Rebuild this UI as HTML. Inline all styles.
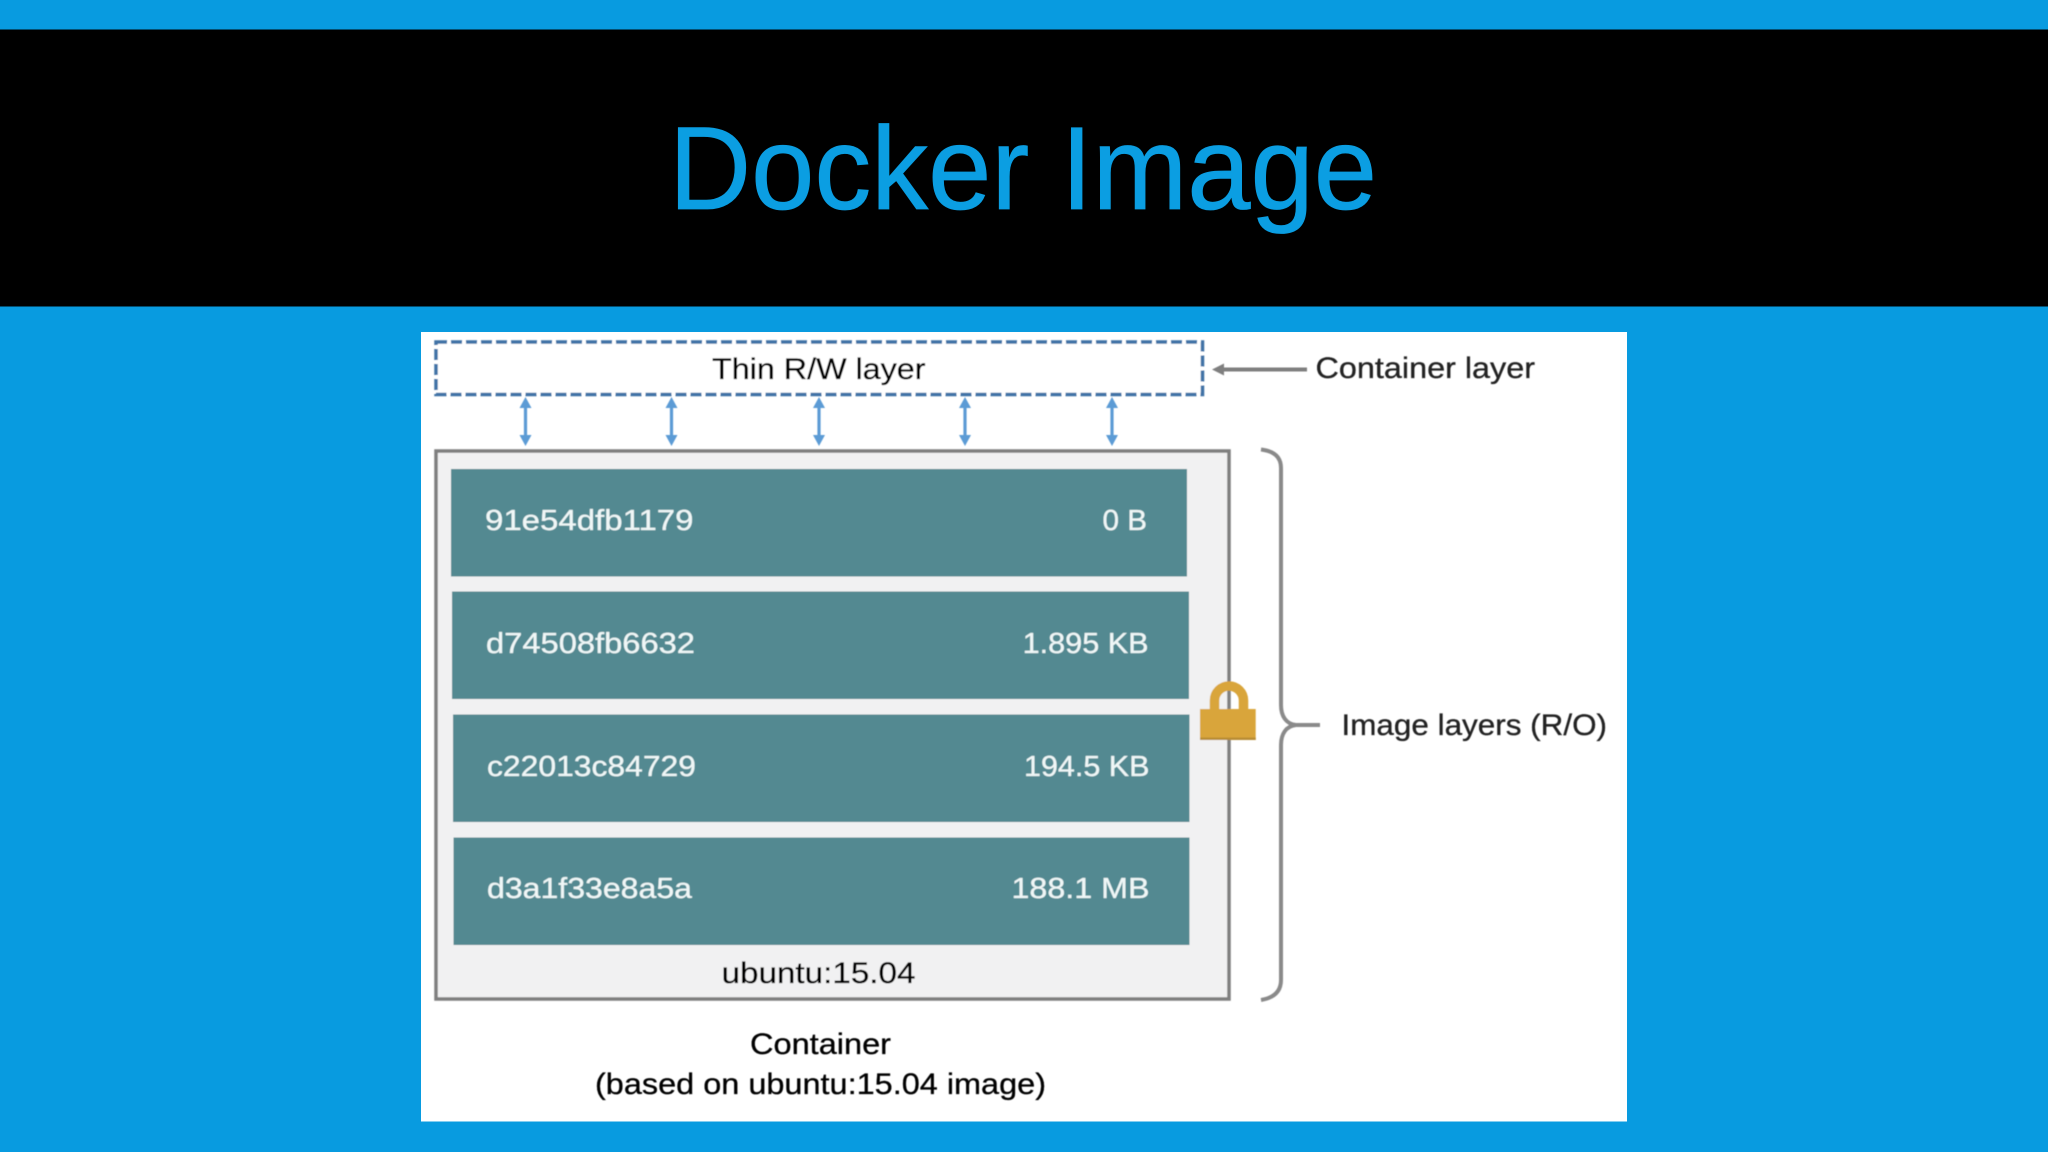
<!DOCTYPE html>
<html lang="en">
<head>
<meta charset="utf-8">
<title>Docker Image</title>
<style>
html,body{margin:0;padding:0;width:2048px;height:1152px;overflow:hidden;background:#089be0}
svg{display:block}
text{font-family:"Liberation Sans",sans-serif}
</style>
</head>
<body>
<svg xmlns="http://www.w3.org/2000/svg" width="2048" height="1152" viewBox="0 0 2048 1152">
<defs><filter id="b" x="-2%" y="-2%" width="104%" height="104%"><feGaussianBlur stdDeviation="0.45"/></filter></defs>
<rect width="2048" height="1152" fill="#089be0"/>
<rect x="0" y="29.5" width="2048" height="277" fill="#000"/>
<text x="669" y="209" font-size="118" fill="#0b9ee2" stroke="#0b9ee2" stroke-width="0.8" textLength="708" lengthAdjust="spacingAndGlyphs">Docker Image</text>
<rect x="421" y="332" width="1206" height="789.5" fill="#fff"/>
<g filter="url(#b)">
<rect x="436" y="342" width="766.5" height="52.5" fill="#fff" stroke="#3f72a6" stroke-width="3.5" stroke-dasharray="11 4"/>
<rect x="436" y="451" width="793" height="548" fill="#f1f1f2" stroke="#7f7f7f" stroke-width="3.5"/>
<g fill="#538991">
<rect x="451" y="469" width="736" height="107.5"/>
<rect x="452" y="591.5" width="737" height="107.5"/>
<rect x="453" y="714.5" width="736.5" height="107.5"/>
<rect x="453.5" y="837.5" width="736" height="107.5"/>
</g>
<g stroke="#5b9bd5" stroke-width="3.2" fill="none">
<path d="M525.5 402V441M671.5 402V441M819 402V441M965 402V441M1112 402V441"/>
</g>
<g fill="#5b9bd5">
<path d="M525.5 397l-6 11h12zM525.5 446l-6 -11h12zM671.5 397l-6 11h12zM671.5 446l-6 -11h12zM819 397l-6 11h12zM819 446l-6 -11h12zM965 397l-6 11h12zM965 446l-6 -11h12zM1112 397l-6 11h12zM1112 446l-6 -11h12z"/>
</g>
<path d="M1307 369.5H1220" stroke="#7f7f7f" stroke-width="4" fill="none"/>
<path d="M1212 369.5l12 -6v12z" fill="#7f7f7f"/>
<path d="M1261 449.5C1273 451 1281 456 1281 468V705C1281 716 1286 724 1296 725H1320M1296 725C1286 726 1281 734 1281 745V980C1281 992 1273 998 1261 1000" fill="none" stroke="#8a8a8a" stroke-width="4"/>
<path d="M1214.5 710V700.5a14.5 14.5 0 0 1 29 0V710" fill="none" stroke="#d9a53b" stroke-width="9.5"/>
<rect x="1200" y="709" width="55.7" height="31" fill="#d9a53b"/>
<rect x="1200" y="737.5" width="55.7" height="2.5" fill="#b98d34"/>
<g fill="#000" stroke="#000" stroke-width="0.3" font-size="30">
<text x="712" y="379" textLength="213.5" lengthAdjust="spacingAndGlyphs">Thin R/W layer</text>
<text x="721.5" y="983" textLength="194" lengthAdjust="spacingAndGlyphs">ubuntu:15.04</text>
<text x="750" y="1054" textLength="141" lengthAdjust="spacingAndGlyphs">Container</text>
<text x="595" y="1094" textLength="451" lengthAdjust="spacingAndGlyphs">(based on ubuntu:15.04 image)</text>
</g>
<g fill="#222" stroke="#222" stroke-width="0.3" font-size="30">
<text x="1315.5" y="378" textLength="219.5" lengthAdjust="spacingAndGlyphs">Container layer</text>
<text x="1341.5" y="735" textLength="265.5" lengthAdjust="spacingAndGlyphs">Image layers (R/O)</text>
</g>
<g fill="#f0f7f7" stroke="#f0f7f7" stroke-width="0.25" font-size="29">
<text x="485" y="530" textLength="208.5" lengthAdjust="spacingAndGlyphs">91e54dfb1179</text>
<text x="1102.5" y="530" textLength="44.5" lengthAdjust="spacingAndGlyphs">0 B</text>
<text x="486" y="653" textLength="209" lengthAdjust="spacingAndGlyphs">d74508fb6632</text>
<text x="1022.6" y="653" textLength="126" lengthAdjust="spacingAndGlyphs">1.895 KB</text>
<text x="487" y="776" textLength="209" lengthAdjust="spacingAndGlyphs">c22013c84729</text>
<text x="1024" y="776" textLength="125.5" lengthAdjust="spacingAndGlyphs">194.5 KB</text>
<text x="487" y="898" textLength="205" lengthAdjust="spacingAndGlyphs">d3a1f33e8a5a</text>
<text x="1011.5" y="898" textLength="138" lengthAdjust="spacingAndGlyphs">188.1 MB</text>
</g>
</g>
</svg>
</body>
</html>
